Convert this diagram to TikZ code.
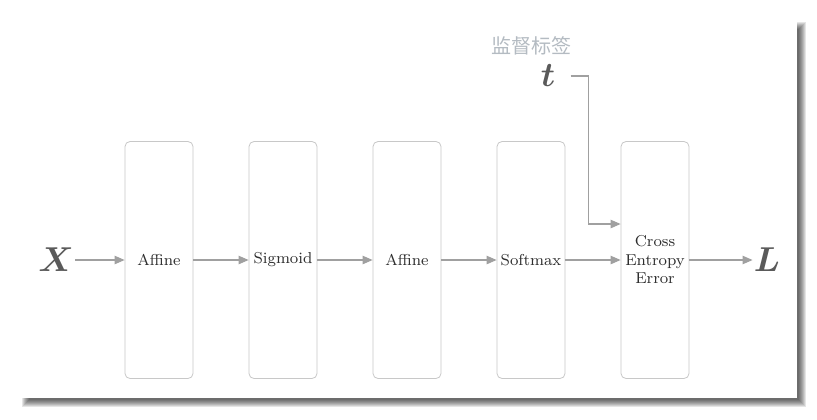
\documentclass[tikz,border=0pt]{standalone}
\usepackage{amsmath}
\usepackage{amssymb}
\usepackage{fontspec}
\newfontfamily\cjk{Noto Sans CJK SC}
\usepackage{tikz}
\usepackage{xcolor}
\usetikzlibrary{positioning,arrows.meta}
\definecolor{box-gray}{HTML}{C8C8C8}
\definecolor{line-gray}{HTML}{A0A0A0}
\definecolor{var-gray}{HTML}{5A5A5A}
\definecolor{label-gray}{HTML}{B4BBC2}
\definecolor{text-dark}{HTML}{2E2E2E}
\tikzset{
    layer-box/.style = {draw=box-gray, fill=white, thin, rectangle, rounded corners=2.5pt, minimum width=34pt, minimum height=118.5pt, inner sep=1pt, align=center, text=text-dark, font=\fontsize{7.9}{9.25}\selectfont},
    flow-arrow/.style = {draw=line-gray, line width=0.6pt, -{Triangle[length=5pt,width=4.2pt]}},
    big-var/.style = {text=var-gray, inner sep=0.5pt, font=\fontsize{17}{20}\selectfont},
    label-text/.style = {text=label-gray, inner sep=0pt, font=\cjk\fontsize{10}{12}\selectfont},
}

\begin{document}
\begin{tikzpicture}[x=0.5pt, y=-0.5pt]
\useasboundingbox (0,0) rectangle (817,419);
% soft shadow and white panel
\foreach \r in {4,3,2,1,0,-1,-2,-3}
    \fill[black, opacity=0.1] (25.5-\r,25.5-\r) rectangle (802+\r,403+\r);
\fill[white] (20,20) rectangle (797,398);
\node [layer-box] (affine-a) at (159,260) {Affine};
\node [layer-box, right=27.6pt of affine-a] (sigmoid) {Sigmoid};
\node [layer-box, right=27.6pt of sigmoid] (affine-b) {Affine};
\node [layer-box, right=27.6pt of affine-b] (softmax) {Softmax};
\node [layer-box, right=27.6pt of softmax] (cross-entropy) {Cross\\Entropy\\Error};
\node [big-var] (x-in) at (56,260) {$\boldsymbol{X}$};
\node [big-var] (l-out) at (767,260) {$\boldsymbol{L}$};
\node [big-var] (t-in) at (548,76) {$\boldsymbol{t}$};
\node [label-text] (t-name) at (531,46) {监督标签};
\draw [flow-arrow] (x-in) -- (affine-a);
\draw [flow-arrow] (affine-a) -- (sigmoid);
\draw [flow-arrow] (sigmoid) -- (affine-b);
\draw [flow-arrow] (affine-b) -- (softmax);
\draw [flow-arrow] (softmax) -- (cross-entropy);
\draw [flow-arrow] (cross-entropy) -- (l-out);
\draw [flow-arrow] ([xshift=7pt]t-in.east) -- ++(9pt,0) |- ([yshift=18pt]cross-entropy.west);
\end{tikzpicture}
\end{document}
